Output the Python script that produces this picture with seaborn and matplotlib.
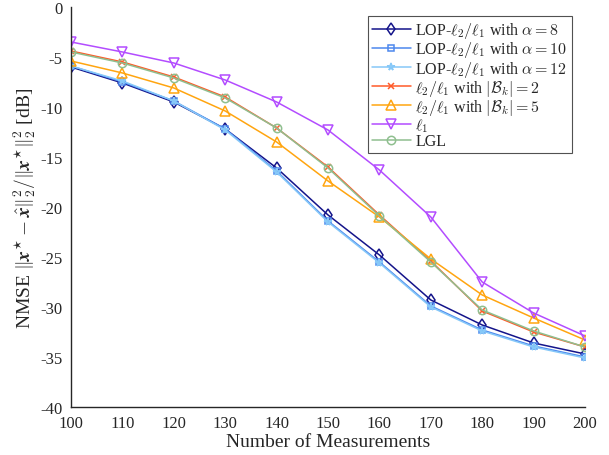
"""
NMSE versus number of measurements.
"""
import matplotlib
matplotlib.use("Agg")
import matplotlib.pyplot as plt
import seaborn as sns

measurements = [100, 110, 120, 130, 140, 150, 160, 170, 180, 190, 200]

lop_a8 = [-6.0, -7.6, -9.5, -12.2, -16.1, -20.8, -24.8, -29.3, -31.8, -33.6, -34.7]
lop_a10 = [-5.9, -7.5, -9.4, -12.2, -16.4, -21.4, -25.5, -29.9, -32.3, -33.9, -35.0]
lop_a12 = [-5.9, -7.4, -9.4, -12.3, -16.5, -21.5, -25.6, -30.0, -32.4, -34.0, -35.1]
l21_b2 = [-4.4, -5.5, -7.0, -9.0, -12.1, -16.0, -20.8, -25.4, -30.4, -32.5, -34.0]
l21_b5 = [-5.4, -6.6, -8.1, -10.4, -13.5, -17.4, -21.0, -25.2, -28.8, -31.1, -33.3]
l1 = [-3.5, -4.5, -5.6, -7.3, -9.5, -12.3, -16.3, -21.0, -27.5, -30.6, -32.9]
lgl = [-4.5, -5.6, -7.1, -9.1, -12.1, -16.1, -20.9, -25.5, -30.3, -32.4, -34.0]

labels = [
    r"LOP-$\ell_2/\ell_1$ with $\alpha=8$",
    r"LOP-$\ell_2/\ell_1$ with $\alpha=10$",
    r"LOP-$\ell_2/\ell_1$ with $\alpha=12$",
    r"$\ell_2/\ell_1$ with $|\mathcal{B}_k|=2$",
    r"$\ell_2/\ell_1$ with $|\mathcal{B}_k|=5$",
    r"$\ell_1$",
    "LGL",
]
series = [lop_a8, lop_a10, lop_a12, l21_b2, l21_b5, l1, lgl]
colors = ["#14148a", "#4d88ee", "#86c8f8", "#ff5a28", "#ffa510", "#b34cff", "#8fbf8f"]
markers = ["d", "s", "*", "x", "^", "v", "o"]
msizes = [6, 4.5, 5.5, 4.5, 7, 7, 6]

sns.set_style("white")
plt.rcParams["font.family"] = ["Liberation Serif", "DejaVu Serif"]
plt.rcParams["mathtext.fontset"] = "cm"
plt.rcParams["axes.unicode_minus"] = False

fig = plt.figure(figsize=(6.09, 4.56), dpi=100)
ax = fig.add_axes([0.1166, 0.1053, 0.844, 0.8772])

for vals, lab, col, mk, ms in zip(series, labels, colors, markers, msizes):
    sns.lineplot(x=measurements, y=vals, ax=ax, color=col, marker=mk,
                 markersize=ms, markerfacecolor="none", markeredgecolor=col,
                 markeredgewidth=1.1, linewidth=1.1, label=lab)

ax.set_xlim(100, 200)
ax.set_ylim(-40, 0)
ax.set_xticks(range(100, 201, 10))
ax.set_yticks(range(-40, 1, 5))
ax.tick_params(direction="in", length=4, labelsize=12, colors="#262626",
               width=0.8)
ax.tick_params(axis="x", pad=6)
ax.tick_params(axis="y", pad=6)
for s in ["top", "right"]:
    ax.spines[s].set_visible(False)
for s in ["left", "bottom"]:
    ax.spines[s].set_color("#262626")
    ax.spines[s].set_linewidth(1.0)

ax.set_xlabel("Number of Measurements", fontsize=14, labelpad=1)
ax.set_ylabel(r"NMSE $\|\boldsymbol{x}^{\star}-\hat{\boldsymbol{x}}\|_2^2/\|\boldsymbol{x}^{\star}\|_2^2$ [dB]",
              fontsize=14, labelpad=2)

leg = ax.legend(loc="upper right", bbox_to_anchor=(0.98, 0.985), fontsize=11.5,
                frameon=True, fancybox=False, handlelength=2.4,
                handletextpad=0.3, borderpad=0.25, labelspacing=-0.05,
                borderaxespad=0.2)
leg.get_frame().set_edgecolor("#262626")
leg.get_frame().set_linewidth(0.8)

fig.savefig("out.png", dpi=100)
plt.close(fig)
